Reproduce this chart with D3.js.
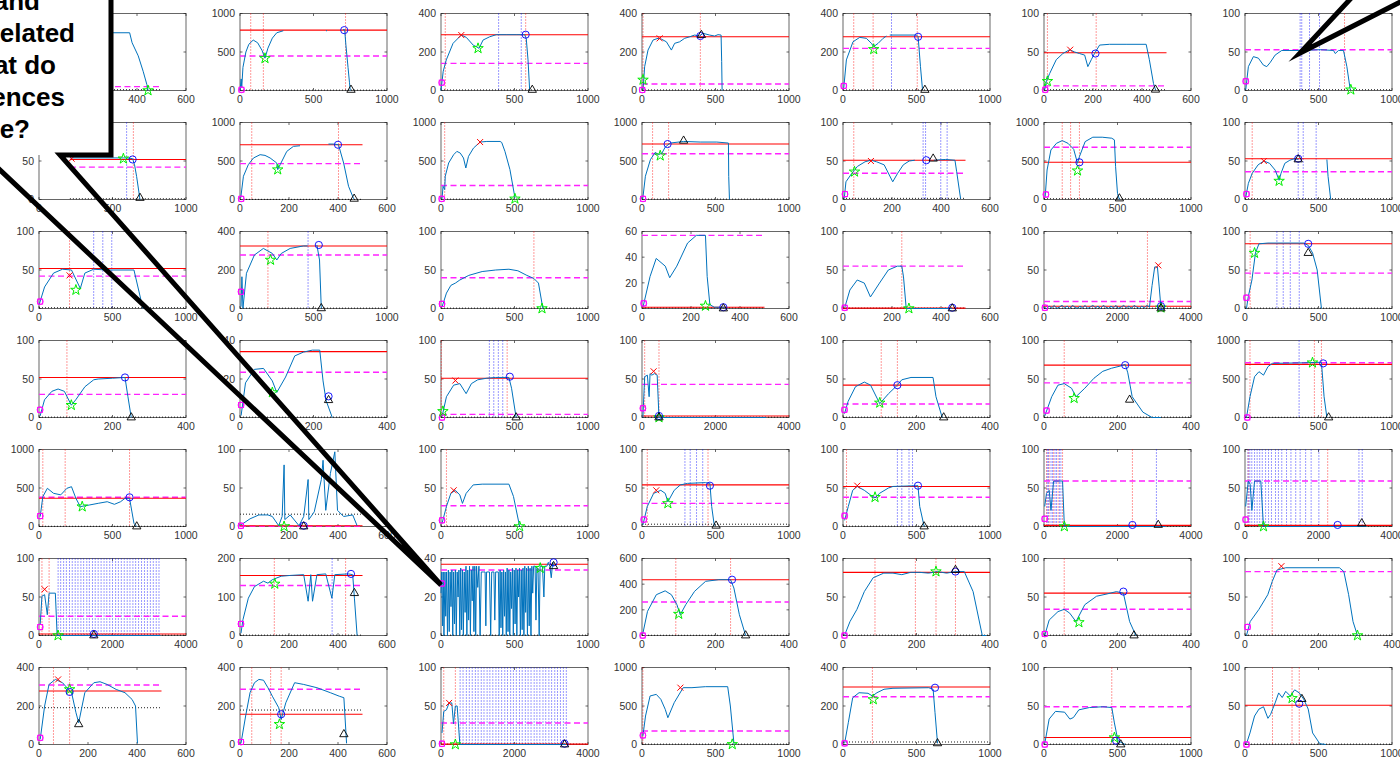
<!DOCTYPE html>
<html>
<head>
<meta charset="utf-8">
<script src="https://cdn.jsdelivr.net/npm/d3@7/dist/d3.min.js"></script>
<style>
  html, body { margin: 0; padding: 0; background: #fff; overflow: hidden; }
  svg { display: block; font-family: "Liberation Sans", Arial, Helvetica, sans-serif; }
</style>
</head>
<body>
<svg id="chart"></svg>
<script>
// 7 x 7 grid of small run plots, listed row by row (left to right)

// x axis upper limits
const xMax = [
  600, 1000, 1000, 1000, 1000, 600, 1000,
  1000, 600, 1000, 1000, 600, 1000, 1000,
  1000, 1000, 1000, 600, 600, 4000, 1000,
  400, 400, 1000, 4000, 400, 400, 1000,
  1000, 600, 1000, 1000, 1000, 4000, 4000,
  4000, 600, 1000, 400, 400, 400, 400,
  600, 600, 4000, 1000, 1000, 1000, 1000
];

// y axis upper limits
const yMax = [
  100, 1000, 400, 400, 400, 100, 100,
  100, 1000, 1000, 1000, 100, 1000, 100,
  100, 400, 100, 60, 100, 100, 100,
  100, 40, 100, 100, 100, 100, 1000,
  1000, 100, 100, 100, 100, 100, 100,
  100, 200, 40, 600, 100, 100, 100,
  400, 400, 100, 1000, 400, 100, 100
];

// tick label sets by axis limit
const xTickSets = { 400: [0, 200, 400], 600: [0, 200, 400, 600], 1000: [0, 500, 1000], 4000: [0, 2000, 4000] };
const yTickSets = { 40: [0, 20, 40], 60: [0, 20, 40, 60], 100: [0, 50, 100], 200: [0, 100, 200],
                    400: [0, 200, 400], 600: [0, 200, 400, 600], 1000: [0, 500, 1000] };

// measured curves ([x, y] points, null = gap)
const curves = [
  // row 1
  [[0,0],[10,40],[40,58],[100,70],[200,75],[370,75],[380,62],[405,45],[425,25],[440,8],[445,0]],
  [[0,0],[8,150],[12,40],[20,300],[40,500],[60,600],[90,655],[120,620],[150,520],[170,420],[190,550],[220,680],[250,750],[295,776],null,[585,776],[592,776],null,[700,790],[712,790],[720,600],[735,300],[745,100],[750,0]],
  [[0,0],[15,100],[36,159],[82,245],[138,288],[172,276],[220,235],[240,228],[259,219],[286,262],[331,279],[376,290],[444,290],[512,290],[569,290],[580,270],[592,159],[603,3]],
  [[7,3],[18,124],[41,210],[75,262],[109,271],[132,267],[166,253],[200,210],[222,245],[256,253],[290,271],[324,279],[358,288],[392,283],[415,297],[460,288],[494,283],[517,290],[538,288],[542,150],[545,0]],
  [[5,12],[23,159],[68,253],[114,276],[159,271],[193,245],[209,228],[239,245],[273,271],[295,283],null,[318,288],[500,288],[511,279],[527,124],[541,3]],
  [[3,1],[10,12],[23,22],[50,40],[77,48],[105,53],[125,50],[145,48],[166,46],[179,31],[193,40],[206,48],[227,59],[267,60],[335,60],[417,60],[430,40],[447,9],[455,1]],
  [[5,1],[23,31],[57,44],[91,42],[125,33],[148,31],[170,36],[205,46],[250,52],[375,52],[511,53],[602,52],[614,48],[636,52],[670,52],[693,31],[716,1]],
  // row 2
  [[210,54],[574,54],[600,54],[637,53],[650,45],[664,30],[687,0]],
  [[3,22],[14,302],[34,453],[55,539],[82,582],[102,573],[123,539],[150,474],[154,388],[164,453],[191,625],[218,690],[245,698],null,[361,720],[382,720],[402,711],[423,474],[443,172],[464,9]],
  [[7,9],[14,172],[25,129],[29,302],[52,474],[86,582],[108,625],[131,603],[153,539],[169,409],[187,560],[221,668],[266,746],[312,754],[402,754],[413,741],[435,625],[469,388],[503,22]],
  [[5,9],[23,302],[57,517],[90,612],[113,582],[136,603],[158,681],[192,733],[283,754],[396,746],[509,746],[588,733],[590,300],[595,0]],
  [[5,1],[12,23],[36,34],[59,43],[90,49],[114,51],[137,49],[168,45],[203,23],[223,34],[246,45],[270,50],[293,51],null,[371,51],[418,52],[457,51],[464,36],[480,1]],
  [[8,35],[21,383],[47,643],[85,730],[124,765],[163,730],[202,652],[228,470],[241,557],[280,752],[332,809],[396,809],[461,796],[479,774],[487,426],[500,78],[513,0]],
  [[5,3],[23,21],[49,34],[89,45],[128,50],[167,47],[206,38],[232,25],[245,34],[271,47],[305,51],[336,53],[362,52],null,[557,52],[565,30],[583,0]],
  // row 3
  [[1,5],[38,28],[99,46],[160,51],[221,50],[281,26],[312,46],[372,51],[463,50],[585,50],[646,50],[707,0]],
  [[7,10],[13,165],[20,1],[44,183],[98,278],[159,312],[220,286],[250,252],[281,286],[341,312],[432,325],[460,325],null,[523,330],[541,252],[553,1]],
  [[7,2],[37,20],[67,30],[98,33],[128,37],[189,43],[280,48],[372,50],[462,51],[523,49],[584,43],[632,39],[663,33],[693,0]],
  [[4,1],[33,25],[58,39],[95,33],[113,24],[142,33],[186,51],[222,57],[259,57],[266,25],[277,3],[295,1],[340,1]],
  [[7,1],[28,24],[58,37],[87,33],[112,15],[149,33],[185,50],[222,55],[240,55],[247,41],[258,0],[446,0]],
  [[0,2],[70,0],[140,3],[210,1],[280,4],[350,0],[420,2],[490,4],[560,1],[630,3],[700,0],[770,4],[840,2],[910,0],[980,3],[1050,1],[1120,4],[1190,0],[1260,2],[1330,4],[1400,1],[1470,3],[1540,0],[1610,4],[1680,2],[1750,0],[1820,3],[1890,1],[1960,4],[2030,0],[2100,2],[2170,4],[2240,1],[2310,3],[2380,0],[2450,4],[2520,2],[2590,0],[2660,3],[2730,1],[2800,4],[2870,2],[2941,30],[3013,54],[3086,54],[3135,28],[3183,0]],
  [[10,0],[22,15],[47,37],[71,72],[95,84],[156,85],[400,85],[430,82],[460,72],[491,50],[520,0]],
  // row 4
  [[3,2],[15,23],[35,34],[52,37],[69,34],[88,16],[100,23],[125,40],[149,49],[161,50],[200,51],[234,52],[242,27],[251,0]],
  [[3,1],[15,18],[39,25],[64,25.5],[88,19],[100,13],[124,21],[149,32],[173,34],[197,35],[217,35],[226,19],[234,9],[251,0]],
  [[7,1],[37,27],[86,42],[128,44],[171,31],[207,44],[250,49],[311,51],[372,52],[462,52],[480,38],[511,0]],
  [[24,0],[73,53],[146,55],[194,27],[219,57],[267,55],[340,57],[413,55],[462,0],[3378,0]],
  [[4,5],[14,21],[34,40],[58,46],[75,42],[100,18],[124,31],[148,42],[160,49],[185,52],[245,52],[253,27],[270,0]],
  [[2,2],[21,27],[38,42],[55,44],[75,38],[87,27],[111,38],[136,51],[160,60],[184,64],[209,67],[221,69],[228,58],[240,27],[269,7],[294,0],[318,0]],
  [[10,0],[34,270],[65,530],[95,595],[126,550],[156,660],[186,703],[399,710],[490,716],[520,716],[538,270],[557,0]],
  // row 5
  [[8,128],[26,387],[57,496],[99,431],[148,411],[190,496],[221,517],[251,366],[281,258],[342,279],[403,301],[464,322],[513,288],[555,322],[585,366],[616,366],[646,41],[665,0]],
  [[4,2],[41,10],[77,15],[114,15],[132,13],[158,1],[172,13],[180,80],[183,9],[205,15],[241,1],[260,13],[278,61],[281,9],[303,19],[332,61],[339,86],[350,21],[369,69],[387,97],[398,21],[423,13],[460,15],[478,1]],
  [[7,4],[37,26],[67,43],[98,47],[128,41],[146,30],[171,43],[219,54],[280,55],[462,55],[493,39],[535,0]],
  [[6,2],[36,26],[79,43],[128,47],[158,43],[176,32],[219,47],[261,54],[310,56],[431,57],[462,56],[474,26],[492,1]],
  [[11,8],[36,26],[66,47],[97,52],[145,47],[187,41],[218,37],[248,43],[309,50],[340,52],[510,53],[522,26],[552,0]],
  [[19,26],[68,43],[141,47],[190,21],[262,59],[384,59],[505,59],[554,0],[3300,0]],
  [[17,26],[90,59],[140,55],[187,21],[260,59],[430,59],[503,0],[3300,0]],
  // row 6
  [[32,14],[80,51],[153,53],[226,27],[275,55],[445,55],[494,0],[3300,0]],
  [[4,6],[12,41],[34,97],[59,127],[96,141],[114,136],[132,145],[168,154],[205,156],[260,158],[278,89],[289,158],[296,89],[314,158],[350,160],[375,97],[387,158],[442,160],[460,158],[467,97],[478,0]],
  [[0,22],[5,33],[10,5],[15,33],[20,0],[27,33],[32,10],[38,33],[44,0],[50,34],[56,2],[62,33],[68,15],[74,34],[80,0],[86,33],[92,6],[98,34],[104,0],[110,33],[116,20],[122,34],[128,0],[134,35],[140,3],[146,34],[152,0],[158,33],[164,12],[170,36],[176,0],[182,34],[188,8],[194,36],[200,0],[206,34],[212,18],[218,36],[224,2],[230,36],[236,0],[242,36],[250,25],[258,36],[266,0],[274,33],[290,33],[300,33],[305,5],[310,33],[330,33],[338,0],[345,33],[360,33],[366,8],[372,33],[390,33],[396,0],[402,34],[408,4],[414,33],[420,0],[426,34],[432,10],[438,33],[444,0],[450,35],[456,2],[462,34],[468,0],[474,33],[480,14],[486,35],[492,0],[498,34],[504,6],[510,35],[516,0],[522,34],[528,20],[534,35],[540,0],[546,34],[552,3],[558,35],[564,0],[570,36],[576,12],[582,35],[588,0],[594,36],[600,5],[606,35],[612,0],[618,36],[624,22],[630,36],[640,36],[646,8],[652,35],[660,35],[668,0],[674,36],[690,36],[700,20],[706,36],[720,36],[730,38],[740,36],[750,30],[760,38],[766,36]],
  [[2,12],[15,188],[39,318],[63,348],[80,318],[95,240],[104,162],[119,240],[143,344],[173,422],[209,435],[241,435],[250,370],[265,162],[282,0]],
  [[4,0],[19,18],[38,34],[58,57],[82,75],[111,81],[136,81],[160,79],[184,82],[209,82],[233,81],[257,83],[282,81],[306,83],[330,83],[354,57],[379,0],[390,0]],
  [[2,0],[14,20],[38,31],[55,34],[70,29],[87,18],[111,40],[143,51],[172,54],[197,57],[216,55],[233,18],[250,0]],
  [[4,0],[14,18],[38,34],[62,53],[74,70],[87,85],[111,88],[257,88],[269,83],[282,53],[294,18],[306,0]],
  // row 7
  [[5,27],[23,200],[41,312],[67,338],[96,321],[114,295],[133,269],[151,165],[162,113],[187,269],[224,321],[249,326],[278,312],[315,286],[351,269],[380,234],[394,200],[402,6]],
  [[4,6],[23,148],[41,269],[59,321],[77,338],[96,334],[114,295],[132,251],[158,191],[168,130],[187,217],[223,321],[260,312],[314,295],[369,269],[405,251],[424,243],[435,6]],
  [[27,15],[75,43],[148,45],[221,54],[294,54],[340,27],[391,50],[440,50],[513,0],[3400,0]],
  [[6,110],[24,370],[55,630],[97,651],[128,587],[158,457],[176,348],[219,543],[280,738],[340,738],[431,751],[583,751],[601,500],[626,2]],
  [[11,6],[36,113],[66,243],[109,269],[170,266],[200,252],[231,269],[279,287],[340,292],[583,295],[613,287],[626,165],[643,6]],
  [[5,1],[35,33],[78,43],[140,42],[176,33],[200,35],[237,45],[309,48],[400,49],[461,48],[479,28],[503,5],[552,0]],
  [[10,1],[34,15],[65,37],[95,46],[126,49],[156,34],[174,39],[205,54],[229,67],[253,61],[277,69],[308,63],[338,71],[369,67],[399,59],[430,46],[460,15],[509,1],[550,0]]
];

// horizontal reference levels (null = not drawn)
const redLevel = [
  null, 784, 290, 279, 279, 49, null,
  52, 711, null, 720, 51, 483, 53,
  52, 325, null, 1, 0.5, 3, 84,
  52, 34.2, 51, 2, 42, 68, 690,
  366, 1, null, 54, 52, 1.5, 1.5,
  2, 156, 37, 435, 82, 55, null,
  278, 157, 0.5, null, 299, 9, 51
];
const magentaLevel = [
  5, 448, 141, 34, 219, 6, 53,
  42, 466, 181, 595, 34, 678, 36,
  42, 278, 40, 57, 55, 9, 46,
  30, 23.5, 4, 43, 17.5, 45, 712,
  379, 0.3, 27, 30, 38, 59, 59,
  25, 130, 34, 261, null, 34, 83,
  309, 287, 28, 175, 248, 49, null
];
const blackLevel = [
  1, 5, 3, 3, 3, 1, 1,
  1, 2, 5, 5, 1.5, 10, 1,
  1, 2, 0.5, 0.5, 0.5, 0.5, 0.5,
  0.5, 0.2, 0.5, 0.5, 0.5, 0.5, 3,
  3, 16, 0.5, 3, 0.5, 0.5, 0.5,
  0.5, 1, 0.2, 2, 0.5, 0.5, 0.5,
  191, 179, 0.5, 5, 13, 0.5, 0.5
];
// where the level lines begin (x), when not at 0
const levelStart = { 7: 210 };

// vertical event markers
const redVlines = [
  [], [73,159,718], [29,576], [7,397], [73,205,505], [14,213], [677],
  [642], [48,402], [25], [72,181], [44], [124,181,241], [49],
  [208], [190], [632], [], [240], [2815], [35],
  [76], [], [2,450], [73,462], [104,148], [55], [34,472,520],
  [26,178,616], [], [37], [36,449], [24], [68,141,262,384,505,2406], [90,2250],
  [80,275], [140,431], [], [92,241], [87,197,253,306], [55], [74],
  [59,125], [48,125,168], [75,391], [6], [200], [461], [187,320,369]
];
const blueVlines = [
  [], [], [392,546], [], [330], [], [375,386,439,507],
  [596], [], [], [], [327,337,399,425], [], [362,396,484],
  [372,434,495], [463], [], [], [], [], [217,260,308,369],
  [], [], [329,359,390,420], [], [], [], [368],
  [], [], [], [292,328,371,413], [370,400,449,473], [90,120,190,230,300,340,420,460,3059],
  [80,130,185,260,330,400,470,560,640,720,830,910,1000,1130,1250,1380,1500,1650,1800,2010,3100,3190],
  [520,590,670,745,830,905,985,1060,1140,1215,1300,1370,1455,1530,1610,1690,1770,1845,1925,2000,2085,2160,2240,2320,2400,2475,2555,2630,2710,2790,2870,2950,3030,3110,3190,3265],
  [376], [], [], [], [], [],
  [], [], [520,600,690,770,850,935,1010,1095,1170,1255,1330,1410,1495,1570,1650,1735,1810,1895,1970,2050,2135,2210,2295,2370,2450,2535,2610,2690,2775,2850,2935,3010,3095,3170,3250,3330,3410],
  [], [], [], []
];

// point markers ([x, y] or null)
const startMark = [
  [5,2], [10,10], [5,41], [2,3], [5,24], [5,1], [5,12],
  null, [5,9], [5,9], [7,9], [8,7], [13,65], [10,7],
  [8,9], [7,87], [7,6], [7,4], [7,1], [24,1], [10,14],
  [3,10], [3,6.5], [7,0], [24,12], [4,10], [7,9], [16,0],
  [8,136], [4,1], [7,8], [12,9], [11,14], [19,10], [17,9],
  [32,11], [4,30], [7,27], [2,0], [4,0], [2,2], [7,11],
  [5,35], [4,13], [27,1], [6,118], [11,6], [5,0], [10,0]
];
const starMark = [
  [445,0], [170,418], [252,219], [7,55], [209,214], [14,12], [720,1],
  [574,53], [154,388], [503,9], [124,569], [47,36], [228,374], [232,24],
  [251,24], [208,252], [687,0], [259,2], [269,0], [3183,1], [65,72],
  [88,16], [88,13], [13,8], [462,0], [100,19], [82,25], [459,712],
  [294,258], [180,0], [535,0], [176,30], [218,38], [554,0], [503,0],
  [518,0], [142,134], [675,35], [100,167], [253,83], [95,17], [306,0],
  [125,286], [161,105], [391,0], [614,2], [206,234], [479,9], [320,60]
];
const crossMark = [
  null, null, [138,288], [120,271], null, [107,53], null,
  [222,53], null, [266,746], null, [114,50], null, [128,50],
  [208,43], null, null, null, null, [3110,56], null,
  null, null, [98,48], [316,60], null, null, null,
  null, null, [86,47], [97,47], [97,53], null, null,
  [153,60], null, null, null, null, null, [99,90],
  [78,338], null, [221,54], [261,738], null, null, null
];
const circleMark = [
  null, [709,784], [576,290], [397,283], [511,279], [210,48], null,
  [637,52], [400,711], null, [174,720], [340,51], [241,483], [362,53],
  null, [536,330], null, [332,1], [446,1], [3183,3], [430,84],
  [234,52], [241,11], [468,53], [462,2], [148,42], [221,68], [532,703],
  [616,379], [260,1], null, [462,53], [510,53], [2406,2], [2520,2],
  [1492,2], [453,160], [766,38], [245,435], [306,83], [216,57], null,
  [125,273], [168,157], [3363,1], null, [626,295], [491,5], [369,53]
];
const triMark = [
  null, [755,8], [621,3], [404,288], [557,3], [455,1], null,
  [687,2], [466,9], null, [283,763], [368,53], [513,13], [362,52],
  null, [553,1], null, [332,0], [446,0], [3183,0], [430,72],
  [251,0], [241,9], [511,0], [462,0], [274,0], [233,23], [569,0],
  [665,0], [260,0], null, [504,1], [552,0], [3108,2], [3177,4],
  [1492,0], [467,110], [766,36], [282,0], [306,85], [245,0], null,
  [162,105], [424,53], [3363,0], null, [643,6], [522,0], [387,59]
];

// callout text (left part runs off the page)
const calloutLines = ["and", "related", "what do", "differences", "here?"];

// ---- layout ----
const width = 1400, height = 764;
const axLeft0 = 39, colStep = 201, axW = 147;
const axTop0 = 13.5, rowStep = 109, axH = 77;
const axisColor = "#262626";
const bubble = { x: -20, y: -20, w: 131, h: 175 };   // white box of the top-left callout
const underBubble = (px, py) => px < bubble.x + bubble.w && py < bubble.y + bubble.h;

const svg = d3.select("#chart")
    .attr("width", width)
    .attr("height", height)
    .attr("viewBox", [0, 0, width, height]);

svg.append("rect").attr("width", width).attr("height", height).attr("fill", "#fff");

const starSym = d3.symbol().type(d3.symbolStar).size(34);
const triSym = d3.symbol().type(d3.symbolTriangle).size(30);

for (let i = 0; i < 49; i++) {
  const r = Math.floor(i / 7), c = i % 7;
  const left = axLeft0 + c * colStep, top = axTop0 + r * rowStep;
  const g = svg.append("g").attr("transform", `translate(${left},${top})`);

  const x = d3.scaleLinear().domain([0, xMax[i]]).range([0, axW]);
  const y = d3.scaleLinear().domain([0, yMax[i]]).range([axH, 0]);
  const xt = xTickSets[xMax[i]], yt = yTickSets[yMax[i]];

  // axes box + inward ticks (mirrored on top/right)
  g.append("rect").attr("width", axW).attr("height", axH)
      .attr("fill", "#fff").attr("stroke", axisColor).attr("stroke-width", 0.7);
  const tk = g.append("g").attr("stroke", axisColor).attr("stroke-width", 0.7);
  xt.forEach(v => {
    tk.append("line").attr("x1", x(v)).attr("x2", x(v)).attr("y1", axH).attr("y2", axH - 2.5);
    tk.append("line").attr("x1", x(v)).attr("x2", x(v)).attr("y1", 0).attr("y2", 2.5);
  });
  yt.forEach(v => {
    tk.append("line").attr("y1", y(v)).attr("y2", y(v)).attr("x1", 0).attr("x2", 2.5);
    tk.append("line").attr("y1", y(v)).attr("y2", y(v)).attr("x1", axW).attr("x2", axW - 2.5);
  });

  // tick labels (the ones hidden behind the callout box are left out)
  g.append("g").selectAll("text")
      .data(xt.filter(v => !underBubble(left + x(v) + 10, top + axH + 4)))
      .join("text")
      .attr("x", d => x(d)).attr("y", axH + 12.5)
      .attr("text-anchor", "middle").attr("font-size", 10.5).attr("fill", "#333")
      .text(d => d);
  g.append("g").selectAll("text")
      .data(yt.filter(v => !underBubble(left - 5, top + y(v) - 4)))
      .join("text")
      .attr("x", -5).attr("y", d => y(d) + 3.7)
      .attr("text-anchor", "end").attr("font-size", 10.5).attr("fill", "#333")
      .text(d => d);

  const lineEnd = xMax[i] === 600 ? 500 : xMax[i];
  const x0 = levelStart[i] || 0;

  // vertical dotted event lines
  g.append("g").selectAll("line").data(redVlines[i]).join("line")
      .attr("x1", d => x(d)).attr("x2", d => x(d)).attr("y1", 0).attr("y2", axH)
      .attr("stroke", "#ff0000").attr("stroke-width", 0.8).attr("stroke-dasharray", "1,2");
  g.append("g").selectAll("line").data(blueVlines[i]).join("line")
      .attr("x1", d => x(d)).attr("x2", d => x(d)).attr("y1", 0).attr("y2", axH)
      .attr("stroke", "#0000ff").attr("stroke-width", 0.8).attr("stroke-dasharray", "1,2");

  // horizontal levels
  const hline = (v, color, dash, w) => {
    if (v === null) return;
    g.append("line")
        .attr("x1", x(x0)).attr("x2", x(lineEnd)).attr("y1", y(v)).attr("y2", y(v))
        .attr("stroke", color).attr("stroke-width", w)
        .attr("stroke-dasharray", dash);
  };
  hline(blackLevel[i], "#000", "1,2", 0.9);
  hline(magentaLevel[i], "#ff22ff", "6,3.5", 1.4);
  hline(redLevel[i], "#ff0000", null, 1.1);

  // data curve
  const line = d3.line()
      .defined(d => d !== null)
      .x(d => x(d[0])).y(d => y(d[1]));
  g.append("path").datum(curves[i])
      .attr("d", line)
      .attr("fill", "none").attr("stroke", "#0072BD").attr("stroke-width", 1)
      .attr("stroke-linejoin", "round");

  // markers
  const m = g.append("g").attr("fill", "none");
  if (startMark[i]) {
    const [mx, my] = startMark[i];
    m.append("circle").attr("cx", x(mx)).attr("cy", y(my)).attr("r", 3)
        .attr("stroke", "#ff00ff").attr("stroke-width", 0.9);
    m.append("rect").attr("x", x(mx) - 2.5).attr("y", y(my) - 2.5).attr("width", 5).attr("height", 5)
        .attr("stroke", "#ff00ff").attr("stroke-width", 0.9);
  }
  if (starMark[i]) {
    m.append("path").attr("d", starSym)
        .attr("transform", `translate(${x(starMark[i][0])},${y(starMark[i][1])})`)
        .attr("stroke", "#00ee00").attr("stroke-width", 1);
  }
  if (crossMark[i]) {
    const cx = x(crossMark[i][0]), cy = y(crossMark[i][1]);
    m.append("path").attr("d", `M${cx - 3},${cy - 3}L${cx + 3},${cy + 3}M${cx - 3},${cy + 3}L${cx + 3},${cy - 3}`)
        .attr("stroke", "#ff0000").attr("stroke-width", 1);
  }
  if (circleMark[i]) {
    m.append("circle").attr("cx", x(circleMark[i][0])).attr("cy", y(circleMark[i][1])).attr("r", 3.6)
        .attr("stroke", "#0000ff").attr("stroke-width", 0.9);
  }
  if (triMark[i]) {
    m.append("path").attr("d", triSym)
        .attr("transform", `translate(${x(triMark[i][0])},${y(triMark[i][1])})`)
        .attr("stroke", "#000").attr("stroke-width", 0.9);
  }
}

// ---- callouts ----
const callout = svg.append("g");
callout.append("rect").attr("x", bubble.x).attr("y", bubble.y).attr("width", bubble.w).attr("height", bubble.h)
    .attr("fill", "#fff");
callout.append("path")
    .attr("d", "M111,-20L111,155L60,155L441,585L-16,155L-30,155")
    .attr("fill", "none").attr("stroke", "#000").attr("stroke-width", 5)
    .attr("stroke-linejoin", "miter").attr("stroke-miterlimit", 20);
callout.append("g").selectAll("text").data(calloutLines).join("text")
    .attr("x", (d, k) => [40, 75, 56, 65, 30][k])
    .attr("y", (d, k) => 10 + k * 32)
    .attr("text-anchor", "end").attr("font-size", 26).attr("font-weight", "bold").attr("fill", "#000")
    .text(d => d);

svg.append("path")
    .attr("d", "M1355,-6L1300,53L1410,-3")
    .attr("fill", "none").attr("stroke", "#000").attr("stroke-width", 5)
    .attr("stroke-linejoin", "miter").attr("stroke-miterlimit", 20);
</script>
</body>
</html>
